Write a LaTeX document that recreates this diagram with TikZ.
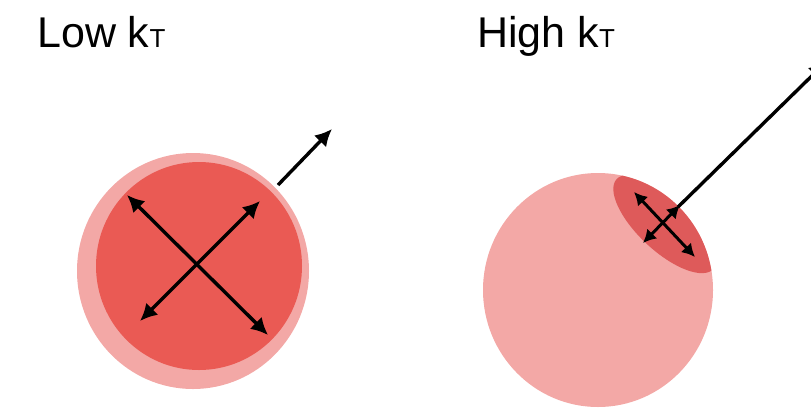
\documentclass[tikz,border=0pt]{standalone}
\usepackage{fontspec}
\setmainfont{Liberation Sans}
\usetikzlibrary{arrows.meta,calc,positioning}

\definecolor{jasnyroz}{RGB}{243,168,166}
\definecolor{ciemnyczerw}{RGB}{234,90,84}
\definecolor{czapka}{RGB}{222,90,90}

\newcommand{\kT}{k{\fontsize{26pt}{26pt}\selectfont T}}

\begin{document}
\begin{tikzpicture}[
    >=Latex,
    x=1pt,
    y=-1pt,
    napis/.style={anchor=base west,inner sep=0pt,font=\fontsize{43pt}{43pt}\selectfont},
    strzalka/.style={line width=3.4pt,-{Latex[length=17pt,width=17pt]}},
    dwustr/.style={line width=3.4pt,{Latex[length=17pt,width=17pt]}-{Latex[length=17pt,width=17pt]}},
    malastr/.style={line width=3pt,{Latex[length=13pt,width=14pt]}-{Latex[length=13pt,width=14pt]}}
]

\useasboundingbox (0,0) rectangle (811,416);

% Napisy
\node[napis] (niski) at (37,47) {Low \kT};
\node[napis] (wysoki) at (477,47) {High \kT};

% Lewa kula
\fill[jasnyroz]
    (193,271) ellipse [x radius=116, y radius=118];

\begin{scope}
    \clip (193,271) ellipse [x radius=116, y radius=118];
    \fill[ciemnyczerw]
        (199,266) ellipse [x radius=103, y radius=104];
\end{scope}

% Strzalki w lewej kuli
\coordinate (l1) at (127,195);
\coordinate (l2) at (268,335);
\coordinate (l3) at (260,201);
\coordinate (l4) at (140,321);

\draw[dwustr] (l1) -- (l2);
\draw[dwustr] (l3) -- (l4);

\coordinate (w1) at (278,185);
\coordinate (w2) at (332,129);

\draw[strzalka] (w1) -- (w2);

% Prawa kula
\fill[jasnyroz]
    (598,290) ellipse [x radius=115, y radius=117];

\begin{scope}
    \clip (598,290) ellipse [x radius=115, y radius=117];
    \fill[czapka,rotate around={-43:(665,224)}]
        (665,224) ellipse [x radius=66, y radius=27];
\end{scope}

% Strzalki w czapce
\coordinate (p1) at (634,192);
\coordinate (p2) at (695,257);
\coordinate (p3) at (680,205);
\coordinate (p4) at (643,243);

\draw[malastr] (p1) -- (p2);
\draw[malastr] (p3) -- (p4);

\coordinate (d1) at (678,207);
\coordinate (d2) at (826,62);

\draw[strzalka] (d1) -- (d2);

\end{tikzpicture}
\end{document}
